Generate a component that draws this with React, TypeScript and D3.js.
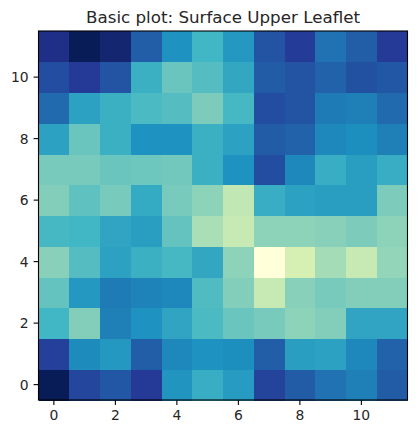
import React from "react";
import * as d3 from "d3";

const title = "Basic plot: Surface Upper Leaflet";
const xTicks = [0, 2, 4, 6, 8, 10];
const yTicks = [0, 2, 4, 6, 8, 10];

// rows listed from y = 11 (top) down to y = 0 (bottom); value in YlGnBu scale 0..1
const row11 = [0.9, 1.0, 0.95, 0.75, 0.62, 0.5, 0.6, 0.78, 0.85, 0.7, 0.75, 0.86];
const row10 = [0.8, 0.86, 0.78, 0.52, 0.42, 0.46, 0.55, 0.76, 0.78, 0.74, 0.79, 0.77];
const row9 = [0.72, 0.57, 0.52, 0.48, 0.46, 0.38, 0.49, 0.8, 0.78, 0.68, 0.67, 0.72];
const row8 = [0.57, 0.42, 0.52, 0.62, 0.62, 0.52, 0.57, 0.76, 0.74, 0.65, 0.63, 0.67];
const row7 = [0.39, 0.39, 0.42, 0.41, 0.4, 0.52, 0.62, 0.8, 0.65, 0.53, 0.58, 0.53];
const row6 = [0.37, 0.44, 0.39, 0.54, 0.39, 0.35, 0.26, 0.53, 0.57, 0.58, 0.58, 0.38];
const row5 = [0.49, 0.5, 0.56, 0.58, 0.43, 0.3, 0.25, 0.35, 0.35, 0.36, 0.38, 0.35];
const row4 = [0.36, 0.46, 0.57, 0.52, 0.49, 0.55, 0.35, 0.0, 0.2, 0.31, 0.25, 0.34];
const row3 = [0.43, 0.6, 0.68, 0.66, 0.65, 0.47, 0.37, 0.25, 0.36, 0.39, 0.37, 0.37];
const row2 = [0.5, 0.37, 0.67, 0.62, 0.56, 0.48, 0.42, 0.39, 0.35, 0.37, 0.56, 0.56];
const row1 = [0.84, 0.64, 0.6, 0.75, 0.65, 0.62, 0.63, 0.75, 0.58, 0.57, 0.65, 0.74];
const row0 = [1.0, 0.82, 0.77, 0.86, 0.61, 0.53, 0.59, 0.83, 0.76, 0.7, 0.67, 0.76];

const rows = [row0, row1, row2, row3, row4, row5, row6, row7, row8, row9, row10, row11];

const ylgnbuStops = ["#ffffd9", "#edf8b1", "#c7e9b4", "#7fcdbb", "#41b6c4", "#1d91c0", "#225ea8", "#253494", "#081d58"];

export default function App() {
  const W = 417, H = 434;
  const left = 38.5, right = 407.5, top = 31, bottom = 400;
  const n = 12;
  const x = d3.scaleLinear().domain([-0.5, n - 0.5]).range([left, right]);
  const y = d3.scaleLinear().domain([-0.5, n - 0.5]).range([bottom, top]);
  const color = d3
    .scaleLinear<string>()
    .domain(ylgnbuStops.map((_, i) => i / (ylgnbuStops.length - 1)))
    .range(ylgnbuStops)
    .interpolate(d3.interpolateRgb);

  const cells: React.ReactNode[] = [];
  rows.forEach((row, j) => {
    row.forEach((v, i) => {
      const x0 = x(i - 0.5), x1 = x(i + 0.5);
      const y0 = y(j + 0.5), y1 = y(j - 0.5);
      cells.push(
        <rect key={`${i}-${j}`} x={x0} y={y0} width={x1 - x0 + 0.5} height={y1 - y0 + 0.5} fill={color(v)} />
      );
    });
  });

  const font = "DejaVu Sans, sans-serif";
  return (
    <div style={{ position: "absolute", left: 0, top: 0 }}>
      <svg width={W} height={H} style={{ display: "block" }}>
        <rect width={W} height={H} fill="#fff" />
        <g shapeRendering="crispEdges">{cells}</g>
        <rect x={left} y={top} width={right - left} height={bottom - top} fill="none" stroke="#000" strokeWidth={1.1} />
        {xTicks.map((t) => (
          <g key={`x${t}`}>
            <line x1={x(t)} x2={x(t)} y1={bottom} y2={bottom + 4.9} stroke="#000" strokeWidth={1.1} />
            <text x={x(t)} y={bottom + 9.8} dy="0.76em" textAnchor="middle" fontFamily={font} fontSize={13.9} fill="#262626">
              {t}
            </text>
          </g>
        ))}
        {yTicks.map((t) => (
          <g key={`y${t}`}>
            <line x1={left - 4.9} x2={left} y1={y(t)} y2={y(t)} stroke="#000" strokeWidth={1.1} />
            <text x={left - 9.8} y={y(t)} dy="0.36em" textAnchor="end" fontFamily={font} fontSize={13.9} fill="#262626">
              {t}
            </text>
          </g>
        ))}
        <text x={(left + right) / 2} y={top - 8.3} textAnchor="middle" fontFamily={font} fontSize={16.7} fill="#262626">
          {title}
        </text>
      </svg>
    </div>
  );
}
